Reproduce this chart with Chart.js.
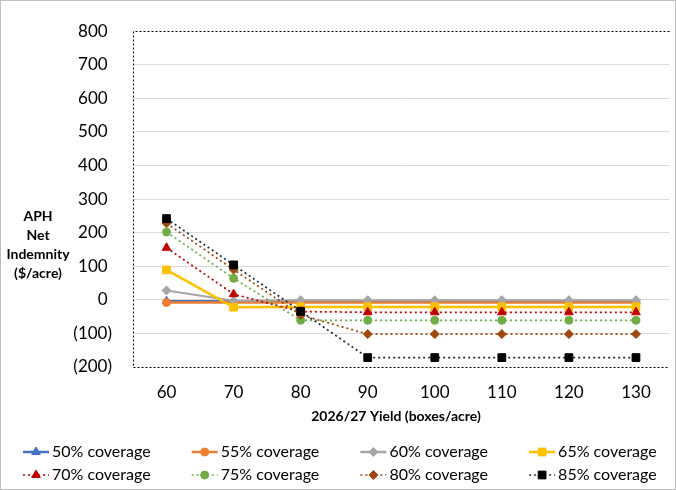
<!DOCTYPE html>
<html>
<head>
<meta charset="utf-8">
<script src="https://cdn.jsdelivr.net/npm/chart.js@4/dist/chart.umd.min.js"></script>
<style>
  html, body { margin: 0; padding: 0; background: #fff; }
  #wrap { width: 676px; height: 490px; }
</style>
</head>
<body>
<div id="wrap"><canvas id="aphChart" width="676" height="490"></canvas></div>
<script>
// yield categories (boxes/acre)
const yields = ["60", "70", "80", "90", "100", "110", "120", "130"];

// net indemnity by coverage level ($/acre)
const cov50 = [-4, -4, -4, -4, -4, -4, -4, -4];
const cov55 = [-8, -8, -8, -8, -8, -8, -8, -8];
const cov60 = [28, -3, -1, -1, -1, -1, -1, -1];
const cov65 = [89, -22, -21, -21, -21, -21, -21, -21];
const cov70 = [155, 17, -35, -37, -37, -37, -37, -37];
const cov75 = [202, 64, -61, -61, -61, -61, -61, -61];
const cov80 = [228, 90, -45, -102, -102, -102, -102, -102];
const cov85 = [242, 104, -34, -172, -172, -172, -172, -172];

const seriesLabels = ["50% coverage", "55% coverage", "60% coverage", "65% coverage",
  "70% coverage", "75% coverage", "80% coverage", "85% coverage"];
const seriesValues = [cov50, cov55, cov60, cov65, cov70, cov75, cov80, cov85];

const yMin = -200;
const yMax = 800;
const yStep = 100;

const styles = [
  { line: "#4472C4", fill: "#4472C4", point: "triangle", r: 5, dotted: false, w: 2.5 },
  { line: "#ED7D31", fill: "#ED7D31", point: "circle", r: 4, dotted: false, w: 2.5 },
  { line: "#A5A5A5", fill: "#A5A5A5", point: "rectRot", r: 4.5, dotted: false, w: 2 },
  { line: "#FFC000", fill: "#FFC000", point: "rect", r: 5.5, dotted: false, w: 2.5 },
  { line: "#C00000", fill: "#C00000", point: "triangle", r: 5, dotted: true, w: 1.75 },
  { line: "#70AD47", fill: "#70AD47", point: "circle", r: 4, dotted: true, w: 1.75 },
  { line: "#9E480E", fill: "#9E480E", point: "rectRot", r: 4.5, dotted: true, w: 1.75 },
  { line: "#1F2F3F", fill: "#000000", point: "rect", r: 5.5, dotted: true, w: 1.75 },
];

const FONT = "Lato";

const datasets = seriesValues.map((vals, i) => {
  const s = styles[i];
  return {
    label: seriesLabels[i],
    data: vals,
    borderColor: s.line,
    backgroundColor: s.fill,
    pointBackgroundColor: s.fill,
    pointBorderColor: s.fill,
    pointBorderWidth: 1,
    pointStyle: s.point,
    pointRadius: s.r,
    pointHoverRadius: s.r,
    borderWidth: s.w,
    borderDash: s.dotted ? [2, 3] : [],
    tension: 0,
    fill: false,
    order: 7 - i, // last series drawn on top
  };
});

function drawMarker(ctx, s, x, y) {
  ctx.fillStyle = s.fill;
  ctx.strokeStyle = s.fill;
  ctx.lineWidth = 1;
  ctx.setLineDash([]);
  if (Chart.helpers && Chart.helpers.drawPoint) {
    Chart.helpers.drawPoint(ctx, { pointStyle: s.point, radius: s.r, rotation: 0, borderWidth: 1 }, x, y);
    return;
  }
  ctx.beginPath();
  if (s.point === "circle") {
    ctx.arc(x, y, s.r, 0, Math.PI * 2);
  } else if (s.point === "triangle") {
    ctx.moveTo(x, y - s.r);
    ctx.lineTo(x + s.r * 0.866, y + s.r * 0.5);
    ctx.lineTo(x - s.r * 0.866, y + s.r * 0.5);
  } else if (s.point === "rect") {
    const h = s.r * Math.SQRT1_2;
    ctx.rect(x - h, y - h, 2 * h, 2 * h);
  } else {
    ctx.moveTo(x, y - s.r);
    ctx.lineTo(x + s.r, y);
    ctx.lineTo(x, y + s.r);
    ctx.lineTo(x - s.r, y);
  }
  ctx.closePath();
  ctx.fill();
  ctx.stroke();
}

const decorations = {
  id: "decorations",
  beforeDatasetsDraw(chart) {
    const { ctx, chartArea: a } = chart;
    ctx.save();
    ctx.strokeStyle = "#000";
    ctx.lineWidth = 1;
    ctx.setLineDash([2, 2]);
    ctx.beginPath();
    ctx.moveTo(a.right, Math.round(a.top) + 0.5);
    ctx.lineTo(Math.round(a.left) + 0.5, Math.round(a.top) + 0.5);
    ctx.lineTo(Math.round(a.left) + 0.5, Math.round(a.bottom) + 0.5);
    ctx.lineTo(a.right, Math.round(a.bottom) + 0.5);
    ctx.stroke();
    ctx.restore();
  },
  afterDraw(chart) {
    const { ctx } = chart;
    ctx.save();
    // y axis title, horizontal, stacked lines
    ctx.fillStyle = "#000";
    ctx.font = "bold 14px " + FONT;
    ctx.textAlign = "center";
    ctx.textBaseline = "middle";
    ["APH", "Net", "Indemnity", "($/acre)"].forEach((t, k) => {
      ctx.fillText(t, 38, 216 + k * 19);
    });
    // x axis title
    ctx.fillText("2026/27 Yield (boxes/acre)", 396, 416);

    // legend: 2 rows x 4 columns
    ctx.font = "16px " + FONT;
    ctx.textAlign = "left";
    chart.data.datasets.forEach((ds, i) => {
      const s = styles[i];
      const x = 23 + (i % 4) * 168.7;
      const y = i < 4 ? 452 : 475;
      ctx.strokeStyle = s.line;
      ctx.lineWidth = s.dotted ? 1.5 : 2.5;
      ctx.setLineDash(s.dotted ? [2, 3] : []);
      ctx.beginPath();
      ctx.moveTo(x, y);
      ctx.lineTo(x + 26, y);
      ctx.stroke();
      drawMarker(ctx, s, x + 13, y);
      ctx.fillStyle = "#000";
      ctx.fillText(ds.label, x + 29, y);
    });

    // outer chart border
    ctx.setLineDash([]);
    ctx.strokeStyle = "#bfbfbf";
    ctx.lineWidth = 1;
    ctx.strokeRect(0.5, 0.5, chart.width - 1, chart.height - 1);
    ctx.restore();
  },
};

const chart = new Chart(document.getElementById("aphChart"), {
  type: "line",
  data: { labels: yields, datasets: datasets },
  plugins: [decorations],
  options: {
    responsive: false,
    animation: false,
    layout: { padding: { top: 11, right: 1, bottom: 61, left: 0 } },
    plugins: {
      legend: { display: false },
      tooltip: { enabled: false },
      title: { display: false },
    },
    scales: {
      x: {
        type: "category",
        offset: true,
        grid: { display: false, drawTicks: false },
        border: { display: false },
        ticks: { color: "#000", padding: 15, font: { family: FONT, size: 17 } },
        afterFit: (scale) => { scale.height = 62; },
      },
      y: {
        min: yMin,
        max: yMax,
        border: { display: false },
        grid: {
          drawTicks: false,
          color: (c) => (c.tick && (c.tick.value === yMin || c.tick.value === yMax)) ? "rgba(0,0,0,0)" : "#d9d9d9",
        },
        ticks: {
          stepSize: yStep,
          color: "#000",
          padding: 21,
          font: { family: FONT, size: 17 },
          callback: (v) => (v < 0 ? "(" + (-v) + ")" : v + " "),
        },
        afterFit: (scale) => { scale.width = 133; },
      },
    },
  },
});
</script>
</body>
</html>
